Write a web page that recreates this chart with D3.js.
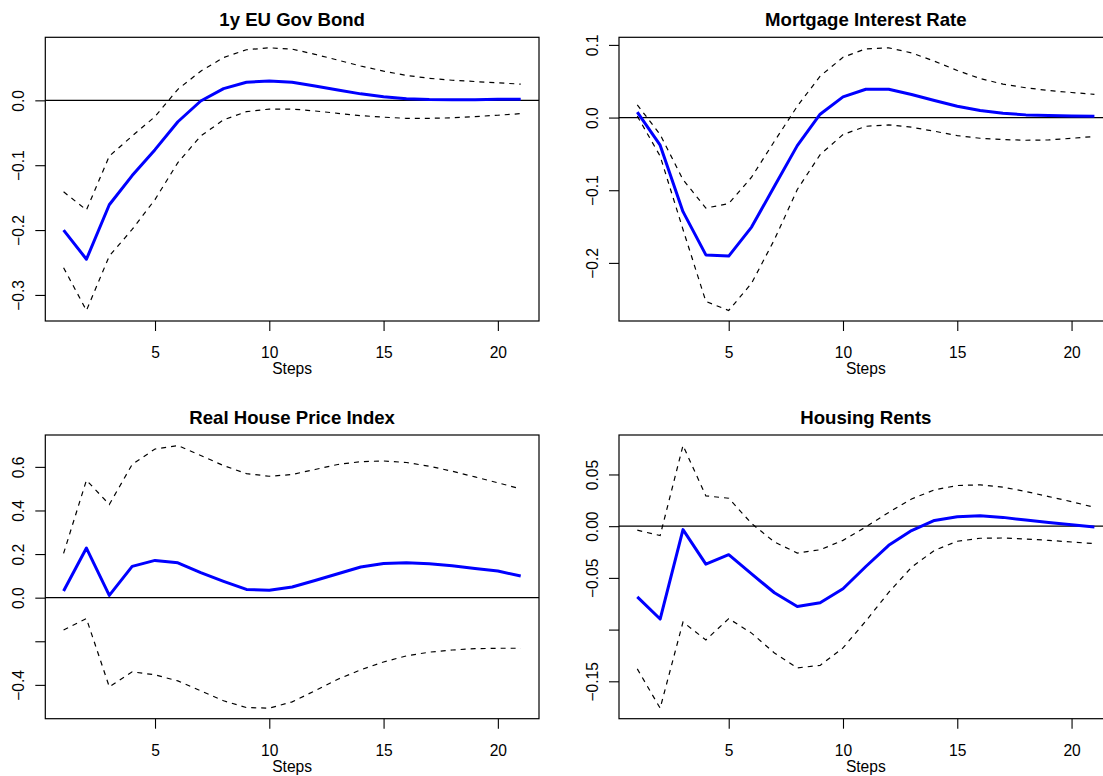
<!DOCTYPE html>
<html>
<head>
<meta charset="utf-8">
<script src="https://d3js.org/d3.v7.min.js"></script>
<style>
body { margin: 0; background: #fff; }
svg { display: block; background: #fff; }
</style>
</head>
<body>
<svg width="1103" height="776"></svg>
<script>
var steps = [1, 2, 3, 4, 5, 6, 7, 8, 9, 10, 11, 12, 13, 14, 15, 16, 17, 18, 19, 20, 21];
var xTicks = [5, 10, 15, 20];
var titles = ['1y EU Gov Bond', 'Mortgage Interest Rate', 'Real House Price Index', 'Housing Rents'];

// 1y EU Gov Bond
var bondIrf = [-0.200, -0.245, -0.161, -0.116, -0.076, -0.033, -0.001, 0.018, 0.028, 0.030, 0.028,
  0.022, 0.016, 0.010, 0.0056, 0.0026, 0.0012, 0.0008, 0.0010, 0.0015, 0.0018];
var bondUpper = [-0.141, -0.169, -0.086, -0.055, -0.025, 0.017, 0.045, 0.066, 0.078, 0.081, 0.079,
  0.071, 0.062, 0.053, 0.045, 0.0385, 0.034, 0.031, 0.029, 0.027, 0.025];
var bondLower = [-0.258, -0.324, -0.240, -0.199, -0.153, -0.096, -0.055, -0.030, -0.0175, -0.0134, -0.0134,
  -0.0164, -0.020, -0.0236, -0.026, -0.0277, -0.0277, -0.027, -0.025, -0.023, -0.0205];
var bondTicks = [-0.3, -0.2, -0.1, 0.0];
var bondLabels = ['\u22120.3', '\u22120.2', '\u22120.1', '0.0'];

// Mortgage Interest Rate
var mortIrf = [0.0074, -0.038, -0.1295, -0.189, -0.1906, -0.1507, -0.0946, -0.0386, 0.0046, 0.0285, 0.039,
  0.039, 0.0317, 0.0234, 0.0156, 0.0096, 0.006, 0.0037, 0.0028, 0.0023, 0.0018];
var mortUpper = [0.0175, -0.0234, -0.0854, -0.1245, -0.1185, -0.082, -0.0326, 0.0156, 0.057, 0.083, 0.0946,
  0.096, 0.089, 0.0776, 0.0648, 0.0537, 0.046, 0.041, 0.0372, 0.0345, 0.032];
var mortLower = [0.002, -0.053, -0.154, -0.253, -0.2655, -0.228, -0.168, -0.099, -0.051, -0.0234, -0.012,
  -0.0101, -0.0133, -0.0188, -0.0248, -0.0285, -0.0303, -0.0312, -0.0308, -0.0285, -0.026];
var mortTicks = [-0.2, -0.1, 0.0, 0.1];
var mortLabels = ['\u22120.2', '\u22120.1', '0.0', '0.1'];

// Real House Price Index
var hpiIrf = [0.0305, 0.2275, 0.0107, 0.1435, 0.171, 0.160, 0.1145, 0.075, 0.038, 0.0336, 0.049,
  0.079, 0.110, 0.1405, 0.157, 0.160, 0.156, 0.1466, 0.134, 0.122, 0.099];
var hpiUpper = [0.203, 0.539, 0.4275, 0.611, 0.682, 0.698, 0.652, 0.606, 0.569, 0.557, 0.565,
  0.588, 0.611, 0.624, 0.627, 0.620, 0.603, 0.580, 0.554, 0.527, 0.499];
var hpiLower = [-0.148, -0.096, -0.409, -0.340, -0.354, -0.382, -0.427, -0.473, -0.504, -0.507, -0.478,
  -0.427, -0.374, -0.331, -0.295, -0.267, -0.250, -0.240, -0.234, -0.232, -0.232];
var hpiTicks = [-0.4, -0.2, 0.0, 0.2, 0.4, 0.6];
var hpiLabels = ['\u22120.4', '', '0.0', '0.2', '0.4', '0.6'];

// Housing Rents
var rentIrf = [-0.0683, -0.0898, -0.0033, -0.0367, -0.0276, -0.0462, -0.0644, -0.0777, -0.0741, -0.0605, -0.039,
  -0.0185, -0.0042, 0.0055, 0.0091, 0.0101, 0.0085, 0.0059, 0.0036, 0.0013, -0.0007];
var rentUpper = [-0.0039, -0.0091, 0.078, 0.0293, 0.027, 0.0026, -0.0153, -0.026, -0.0228, -0.0137, -0.0007,
  0.0133, 0.0263, 0.0351, 0.0393, 0.040, 0.0377, 0.0335, 0.0286, 0.0237, 0.0182];
var rentLower = [-0.138, -0.176, -0.0927, -0.110, -0.0894, -0.1034, -0.1226, -0.137, -0.1346, -0.1177, -0.0917,
  -0.064, -0.0397, -0.0234, -0.0146, -0.0117, -0.0114, -0.0124, -0.0137, -0.0153, -0.0169];
var rentTicks = [-0.15, -0.10, -0.05, 0.00, 0.05];
var rentLabels = ['\u22120.15', '', '\u22120.05', '0.00', '0.05'];

var panels = [
  {irf: bondIrf, upper: bondUpper, lower: bondLower, ticks: bondTicks, labels: bondLabels},
  {irf: mortIrf, upper: mortUpper, lower: mortLower, ticks: mortTicks, labels: mortLabels},
  {irf: hpiIrf, upper: hpiUpper, lower: hpiLower, ticks: hpiTicks, labels: hpiLabels},
  {irf: rentIrf, upper: rentUpper, lower: rentLower, ticks: rentTicks, labels: rentLabels}
];

var boxW = 493.7, boxH = 283.7;
var colX = [45.3, 619], rowY = [37.3, 435];
var font = "'Liberation Sans', Arial, Helvetica, sans-serif";

var svg = d3.select('svg');

// R style axis range: data range plus 4% each side
var pad = function(ext) {
  var d = (ext[1] - ext[0]) * 0.04;
  return [ext[0] - d, ext[1] + d];
};

var drawPanel = function(p, k) {
  var g = svg.append('g')
    .attr('transform', 'translate(' + colX[k % 2] + ',' + rowY[Math.floor(k / 2)] + ')');

  var x = d3.scaleLinear().domain(pad(d3.extent(steps))).range([0, boxW]);
  var y = d3.scaleLinear().domain(pad(d3.extent(p.irf.concat(p.upper, p.lower)))).range([boxH, 0]);

  // y axis, labels turned like R
  var ya = g.append('g').call(d3.axisLeft(y).tickValues(p.ticks).tickSize(10)
    .tickFormat(function(d, i) { return p.labels[i]; }));
  ya.select('.domain').remove();
  ya.selectAll('line').attr('stroke', '#000').attr('stroke-width', 1.1);
  ya.selectAll('text')
    .attr('x', 0).attr('dy', null)
    .attr('text-anchor', 'middle')
    .attr('transform', 'translate(-21,0) rotate(-90)')
    .attr('fill', '#000');
  ya.attr('font-size', 15.6).attr('font-family', font);

  // x axis
  var xa = g.append('g').attr('transform', 'translate(0,' + boxH + ')')
    .call(d3.axisBottom(x).tickValues(xTicks).tickSize(10));
  xa.select('.domain').remove();
  xa.selectAll('line').attr('stroke', '#000').attr('stroke-width', 1.1);
  xa.selectAll('text').attr('y', 37).attr('dy', null).attr('fill', '#000');
  xa.attr('font-size', 15.6).attr('font-family', font);

  g.append('text')
    .attr('x', boxW / 2).attr('y', boxH + 53.5)
    .attr('text-anchor', 'middle')
    .attr('font-family', font).attr('font-size', 15.6)
    .text('Steps');

  g.append('text')
    .attr('x', boxW / 2).attr('y', -11)
    .attr('text-anchor', 'middle')
    .attr('font-family', font).attr('font-size', 18.6).attr('font-weight', 'bold')
    .text(titles[k]);

  // zero line
  g.append('line')
    .attr('x1', 0).attr('x2', boxW)
    .attr('y1', y(0)).attr('y2', y(0))
    .attr('stroke', '#000').attr('stroke-width', 1.3);

  var line = function(vals) {
    return d3.line()
      .x(function(d, i) { return x(steps[i]); })
      .y(function(d) { return y(d); })(vals);
  };

  g.append('path').attr('d', line(p.upper))
    .attr('fill', 'none').attr('stroke', '#000').attr('stroke-width', 1.2)
    .attr('stroke-dasharray', '5,5');
  g.append('path').attr('d', line(p.lower))
    .attr('fill', 'none').attr('stroke', '#000').attr('stroke-width', 1.2)
    .attr('stroke-dasharray', '5,5');
  g.append('path').attr('d', line(p.irf))
    .attr('fill', 'none').attr('stroke', '#0000ff').attr('stroke-width', 3)
    .attr('stroke-linejoin', 'round');

  g.append('rect')
    .attr('x', 0).attr('y', 0).attr('width', boxW).attr('height', boxH)
    .attr('fill', 'none').attr('stroke', '#000').attr('stroke-width', 1.2);
};

panels.forEach(drawPanel);
</script>
</body>
</html>
